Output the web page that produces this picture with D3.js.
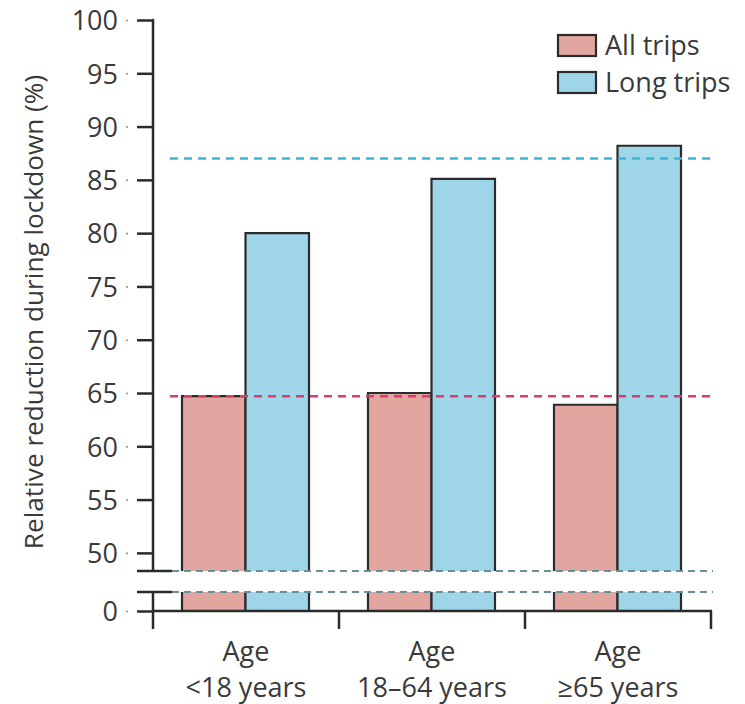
<!DOCTYPE html>
<html><head><meta charset="utf-8">
<script src="https://cdn.jsdelivr.net/npm/d3@7"></script>
<style>
html,body{margin:0;padding:0;background:#fff;}
text{font-family:"Open Sans","Noto Sans",sans-serif;fill:#3a3a3a;}
</style></head>
<body><svg id="chart" width="745" height="704"></svg>
<script>
const categories = ["Age\n<18 years", "Age\n18\u201364 years", "Age\n\u226565 years"];
const seriesNames = ["All trips", "Long trips"];
const allTrips = [64.7, 65.0, 63.9];
const longTrips = [80.0, 85.1, 88.2];
const refAll = 64.7;
const refLong = 87.0;
const yTicksTop = [50, 55, 60, 65, 70, 75, 80, 85, 90, 95, 100];
const yTicksBottom = [0];
const yTitle = "Relative reduction during lockdown (%)";

const colors = {all: "#e2a59f", long: "#9fd5e8", refAll: "#d23f6e", refLong: "#3db6d6", brk: "#6a9095", axis: "#2b2b2b"};

const svg = d3.select("#chart");
const axisX = 153, xEnd = 711;
const yBreakTop = 571, yBreakBot = 592, yZero = 611;

const yTop = d3.scaleLinear().domain([48.3, 100]).range([yBreakTop, 20]);
const yBot = d3.scaleLinear().domain([0, 1.8]).range([yZero, yBreakBot]);

const x = d3.scaleBand().domain(categories).range([axisX, xEnd]).paddingInner(0).paddingOuter(0);
const xs = d3.scaleBand().domain(seriesNames).range([29, x.bandwidth() - 30]);

const data = categories.map((c, i) => ({c, vals: [{s: "All trips", v: allTrips[i], col: colors.all}, {s: "Long trips", v: longTrips[i], col: colors.long}]}));

const g = svg.append("g");
// bars
data.forEach(d => {
  d.vals.forEach(b => {
    const x0 = x(d.c) + xs(b.s), w = xs.bandwidth();
    const yt = yTop(b.v);
    g.append("rect").attr("x", x0).attr("y", yt).attr("width", w).attr("height", yBreakTop - yt).attr("fill", b.col);
    g.append("path").attr("d", `M${x0},${yBreakTop}V${yt}H${x0 + w}V${yBreakTop}`).attr("fill", "none").attr("stroke", colors.axis).attr("stroke-width", 2.2);
    g.append("rect").attr("x", x0).attr("y", yBot(1.8)).attr("width", w).attr("height", yBot(0) - yBot(1.8)).attr("fill", b.col);
    g.append("path").attr("d", `M${x0},${yBot(1.8)}V${yBot(0)}M${x0 + w},${yBot(1.8)}V${yBot(0)}`).attr("fill", "none").attr("stroke", colors.axis).attr("stroke-width", 2.2);
  });
});

// break dashed lines
[yBreakTop, yBreakBot].forEach(yy => {
  g.append("line").attr("x1", 172).attr("x2", 713).attr("y1", yy).attr("y2", yy)
    .attr("stroke", colors.brk).attr("stroke-width", 2.2).attr("stroke-dasharray", "7,5");
});
// reference lines
g.append("line").attr("x1", 170).attr("x2", 713).attr("y1", yTop(refLong)).attr("y2", yTop(refLong))
  .attr("stroke", colors.refLong).attr("stroke-width", 2.6).attr("stroke-dasharray", "8,6");
g.append("line").attr("x1", 170).attr("x2", 713).attr("y1", yTop(refAll)).attr("y2", yTop(refAll))
  .attr("stroke", colors.refAll).attr("stroke-width", 2.6).attr("stroke-dasharray", "8,6");

// y axes
const fmt = d3.format("d");
const axTop = svg.append("g").attr("transform", `translate(${axisX},0)`)
  .call(d3.axisLeft(yTop).tickValues(yTicksTop).tickFormat(fmt).tickSize(16).tickSizeOuter(0).tickPadding(19));
const axBot = svg.append("g").attr("transform", `translate(${axisX},0)`)
  .call(d3.axisLeft(yBot).tickValues(yTicksBottom).tickFormat(fmt).tickSize(16).tickSizeOuter(0).tickPadding(19));
[axTop, axBot].forEach(a => {
  a.selectAll("path.domain").attr("stroke", colors.axis).attr("stroke-width", 2.5);
  a.selectAll(".tick line").attr("stroke", colors.axis).attr("stroke-width", 2.5);
  a.selectAll(".tick text").attr("font-size", 27).attr("font-family", "'Open Sans',sans-serif").attr("fill", "#3a3a3a").attr("dy", "0.36em");
  a.selectAll(".tick").append("circle").attr("cx", -26).attr("cy", 0).attr("r", 1.1).attr("fill", "#999");
});
axTop.select("path.domain").attr("d", `M0,${yBreakTop}V20H-0.5`);
axBot.select("path.domain").attr("d", `M0,${yBreakBot}V${yZero}`);
// break marks
[yBreakTop, yBreakBot].forEach(yy => {
  svg.append("line").attr("x1", 137).attr("x2", 172).attr("y1", yy).attr("y2", yy)
    .attr("stroke", colors.axis).attr("stroke-width", 2.5);
});

// x axis
const axX = svg.append("g").attr("transform", `translate(0,${yZero})`);
axX.append("line").attr("x1", axisX - 1).attr("x2", xEnd + 1).attr("y1", 0).attr("y2", 0).attr("stroke", colors.axis).attr("stroke-width", 2.5);
const xTickPos = categories.map(c => x(c)).concat([x(categories[categories.length - 1]) + x.bandwidth()]);
axX.selectAll("line.xt").data(xTickPos).join("line").attr("class", "xt")
  .attr("x1", d => d).attr("x2", d => d).attr("y1", 0).attr("y2", 18).attr("stroke", colors.axis).attr("stroke-width", 2.5);
categories.forEach(c => {
  const lines = c.split("\n");
  const t = svg.append("text").attr("x", x(c) + x.bandwidth() / 2).attr("y", 661).attr("text-anchor", "middle").attr("font-size", 27);
  lines.forEach((l, i) => t.append("tspan").attr("x", x(c) + x.bandwidth() / 2).attr("dy", i === 0 ? 0 : 36).text(l));
});

// y title
svg.append("text").attr("transform", `translate(43,312) rotate(-90)`).attr("text-anchor", "middle")
  .attr("font-size", 26.2).text(yTitle);

// legend
const leg = svg.append("g");
[[seriesNames[0], colors.all, 35], [seriesNames[1], colors.long, 72]].forEach(([n, c, yy]) => {
  leg.append("rect").attr("x", 558).attr("y", yy).attr("width", 38).attr("height", 21).attr("fill", c).attr("stroke", colors.axis).attr("stroke-width", 2.2);
  leg.append("text").attr("x", 605).attr("y", yy + 20).attr("font-size", 27).text(n);
});
</script></body></html>
